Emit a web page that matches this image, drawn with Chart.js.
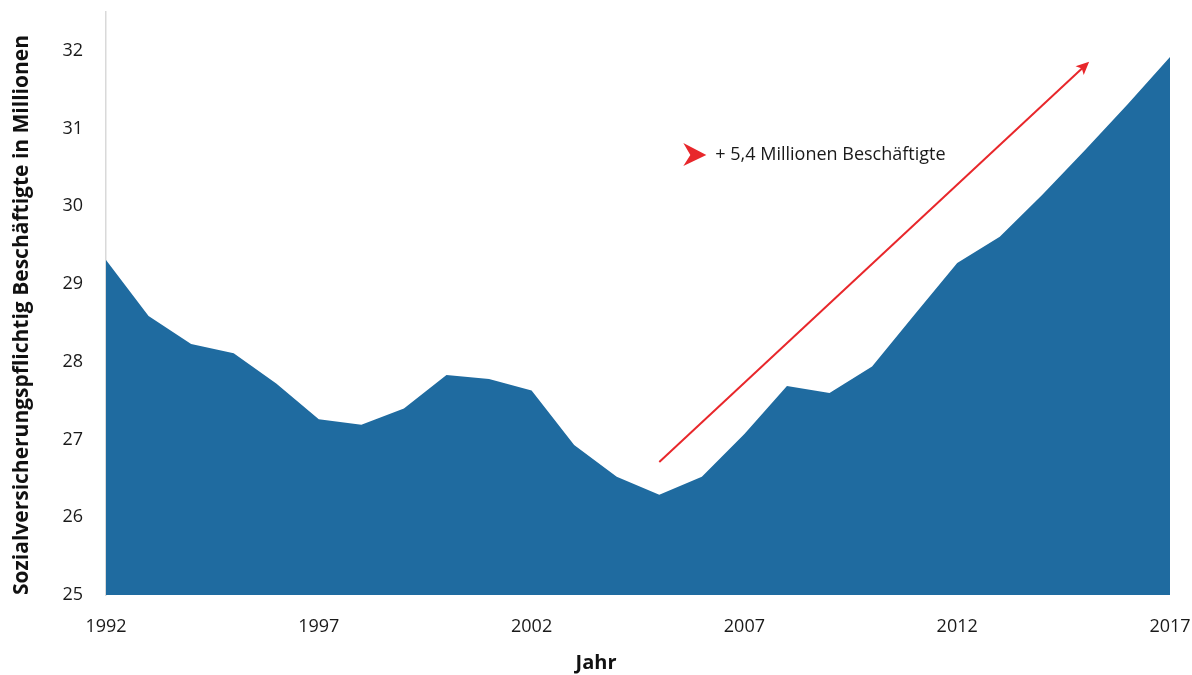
<!DOCTYPE html>
<html lang="de">
<head>
<meta charset="utf-8">
<title>Sozialversicherungspflichtig Beschäftigte 1992–2017</title>
<script src="https://cdn.jsdelivr.net/npm/chart.js@4.4.1/dist/chart.umd.min.js"></script>
<style>
  html, body { margin: 0; padding: 0; background: #fff; }
  #wrap { width: 1192px; height: 675px; }
</style>
</head>
<body>
<div id="wrap"><canvas id="myChart"></canvas></div>
<script>
  // Jahre und Beschäftigte (Mio.)
  const years = [
    1992, 1993, 1994, 1995, 1996, 1997, 1998, 1999, 2000, 2001, 2002, 2003, 2004,
    2005, 2006, 2007, 2008, 2009, 2010, 2011, 2012, 2013, 2014, 2015, 2016, 2017
  ];
  const employed = [
    29.31, 28.59, 28.23, 28.11, 27.72, 27.26, 27.19, 27.40, 27.83, 27.78, 27.63, 26.93, 26.52,
    26.29, 26.52, 27.07, 27.69, 27.60, 27.94, 28.61, 29.27, 29.61, 30.15, 30.72, 31.31, 31.92
  ];
  const yTicks = [25, 26, 27, 28, 29, 30, 31, 32];

  // Trendpfeil und Hinweis, in Daten-Koordinaten [Jahr, Mio.]
  const arrowFrom = [2005, 26.71];
  const arrowTo = [2015.1, 31.86];
  const noteAt = [2005.8, 30.66];
  const noteText = '+ 5,4 Millionen Beschäftigte';

  const blue = '#1f6ba0';
  const red = '#e8272b';
  const font = "'Open Sans', 'DejaVu Sans', sans-serif";

  const trendArrow = {
    id: 'trendArrow',
    afterDatasetsDraw(chart) {
      const { ctx, scales: { x, y } } = chart;
      const px = yr => x.getPixelForValue(yr - years[0]);
      const x1 = px(arrowFrom[0]), y1 = y.getPixelForValue(arrowFrom[1]);
      const x2 = px(arrowTo[0]), y2 = y.getPixelForValue(arrowTo[1]);
      const ang = Math.atan2(y2 - y1, x2 - x1);

      ctx.save();
      ctx.strokeStyle = red;
      ctx.fillStyle = red;
      ctx.lineWidth = 2;
      ctx.beginPath();
      ctx.moveTo(x1, y1);
      ctx.lineTo(x2 - 8 * Math.cos(ang), y2 - 8 * Math.sin(ang));
      ctx.stroke();

      // Pfeilspitze
      ctx.translate(x2, y2);
      ctx.rotate(ang);
      ctx.beginPath();
      ctx.moveTo(0, 0);
      ctx.lineTo(-13, -6);
      ctx.lineTo(-10, 0);
      ctx.lineTo(-13, 6);
      ctx.closePath();
      ctx.fill();
      ctx.restore();

      // Markierung + Text
      const nx = px(noteAt[0]), ny = y.getPixelForValue(noteAt[1]);
      ctx.save();
      ctx.fillStyle = red;
      ctx.beginPath();
      ctx.moveTo(nx + 13, ny);
      ctx.lineTo(nx - 10, ny - 12);
      ctx.lineTo(nx - 3, ny);
      ctx.lineTo(nx - 10, ny + 11);
      ctx.closePath();
      ctx.fill();
      ctx.fillStyle = '#1a1a1a';
      ctx.font = '18px ' + font;
      ctx.textBaseline = 'middle';
      ctx.textAlign = 'left';
      ctx.fillText(noteText, nx + 22, ny);
      ctx.restore();
    }
  };

  const data = {
    labels: years,
    datasets: [{
      label: 'Beschäftigte',
      data: employed,
      fill: 'start',
      backgroundColor: blue,
      borderColor: blue,
      borderWidth: 0,
      pointRadius: 0,
      tension: 0
    }]
  };

  const config = {
    type: 'line',
    data: data,
    plugins: [trendArrow],
    options: {
      responsive: true,
      maintainAspectRatio: false,
      animation: false,
      layout: { padding: 0 },
      plugins: {
        legend: { display: false },
        tooltip: { enabled: false },
        title: {
          display: true,
          position: 'bottom',
          text: 'Jahr',
          color: '#111',
          font: { family: font, size: 20, weight: 'bold' },
          padding: { top: 4, bottom: 0 }
        }
      },
      scales: {
        x: {
          offset: false,
          grid: { display: false, drawTicks: false },
          border: { display: false },
          ticks: {
            autoSkip: false,
            maxRotation: 0,
            padding: 21,
            color: '#1a1a1a',
            font: { family: font, size: 18 },
            callback: (v, i) => (i % 5 === 0 ? years[i] : '')
          },
          afterFit: s => {
            s.height = 52;
            s.paddingLeft = 0;
            s.paddingRight = 22;
          }
        },
        y: {
          min: 25,
          max: 32.5,
          grid: { display: false, drawTicks: false },
          border: { display: true, color: '#d9d9d9', width: 1.5 },
          afterBuildTicks: s => { s.ticks = yTicks.map(v => ({ value: v })); },
          ticks: {
            padding: 23,
            color: '#1a1a1a',
            font: { family: font, size: 18 }
          },
          title: {
            display: true,
            align: 'start',
            text: 'Sozialversicherungspflichtig Beschäftigte in Millionen',
            color: '#111',
            font: { family: font, size: 21, weight: 'bold' },
            padding: { top: 9, bottom: 0 }
          },
          afterFit: s => {
            s.width = 106;
            s.paddingTop = 12;
            s.paddingBottom = 0;
          }
        }
      }
    }
  };

  const myChart = new Chart(document.getElementById('myChart'), config);
</script>
</body>
</html>
